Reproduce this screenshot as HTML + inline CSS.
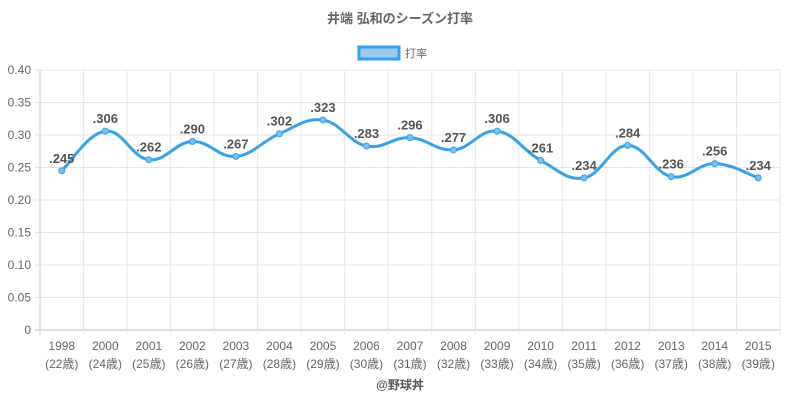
<!DOCTYPE html>
<html><head><meta charset="utf-8"><style>
html,body{margin:0;padding:0;background:#fff;}
svg{display:block;font-family:"Liberation Sans","Noto Sans CJK JP",sans-serif;}
</style></head><body>
<svg id="c" width="800" height="400" xmlns="http://www.w3.org/2000/svg"></svg>
<script>
var s=document.getElementById('c'),h='';
var yrs=['1998','2000','2001','2002','2003','2004','2005','2006','2007','2008','2009','2010','2011','2012','2013','2014','2015'];
var ages=[22,24,25,26,27,28,29,30,31,32,33,34,35,36,37,38,39];
var v=[.245,.306,.262,.290,.267,.302,.323,.283,.296,.277,.306,.261,.234,.284,.236,.256,.234];
var L=40,R=780,T=70,B=330,w=(R-L)/17;
function Y(a){return B-a/0.4*(B-T);}
h+='<text x="400" y="23" text-anchor="middle" font-size="13" font-weight="bold" fill="#666">井端 弘和のシーズン打率</text>';
h+='<rect x="359" y="47" width="40" height="12" fill="#9ccbf2" stroke="#36a2eb" stroke-width="3"/>';
h+='<text x="405" y="57" font-size="11" fill="#666">打率</text>';
for(var i=0;i<=8;i++){var y=Y(i*0.05);h+='<line x1="'+(L-5)+'" x2="'+R+'" y1="'+y+'" y2="'+y+'" stroke="'+(i==0?'#bbb':'#e4e4e4')+'"/>';
h+='<text x="'+(L-9)+'" y="'+(y+4)+'" text-anchor="end" font-size="12" fill="#666">'+(i==0?'0':(i*0.05).toFixed(2))+'</text>';}
for(var i=0;i<=17;i++){var x=L+i*w;h+='<line x1="'+x+'" x2="'+x+'" y1="'+T+'" y2="'+(B+5)+'" stroke="'+(i==0?'#ccc':'#e8e8e8')+'"/>';}
var P=v.map(function(a,i){return [L+w*(i+0.5),Y(a)];});
for(var i=0;i<17;i++){h+='<text x="'+P[i][0]+'" y="'+(B+20)+'" text-anchor="middle" font-size="12" fill="#666">'+yrs[i]+'</text>';
h+='<text x="'+P[i][0]+'" y="'+(B+38)+'" text-anchor="middle" font-size="12" fill="#666">('+ages[i]+'歳)</text>';}
var d='M'+P[0][0]+','+P[0][1],t=0.4;
for(var i=0;i<16;i++){var p0=P[Math.max(i-1,0)],p1=P[i],p2=P[i+1],p3=P[Math.min(i+2,16)];
var c1=[p1[0]+(p2[0]-p0[0])*t/2,p1[1]+(p2[1]-p0[1])*t/2],c2=[p2[0]-(p3[0]-p1[0])*t/2,p2[1]-(p3[1]-p1[1])*t/2];
d+=' C'+c1+' '+c2+' '+p2;}
h+='<path d="'+d+'" fill="none" stroke="#36a2eb" stroke-width="3"/>';
for(var i=0;i<17;i++){h+='<circle cx="'+P[i][0]+'" cy="'+P[i][1]+'" r="3" fill="#7fbff0" stroke="#36a2eb" stroke-width="1"/>';
h+='<text x="'+P[i][0]+'" y="'+(P[i][1]-8)+'" text-anchor="middle" font-size="13" font-weight="bold" fill="#555">'+v[i].toFixed(3).slice(1)+'</text>';}
h+='<text x="400" y="389" text-anchor="middle" font-size="12" font-weight="bold" fill="#555">@野球丼</text>';
s.innerHTML=h;
</script>
</body></html>
